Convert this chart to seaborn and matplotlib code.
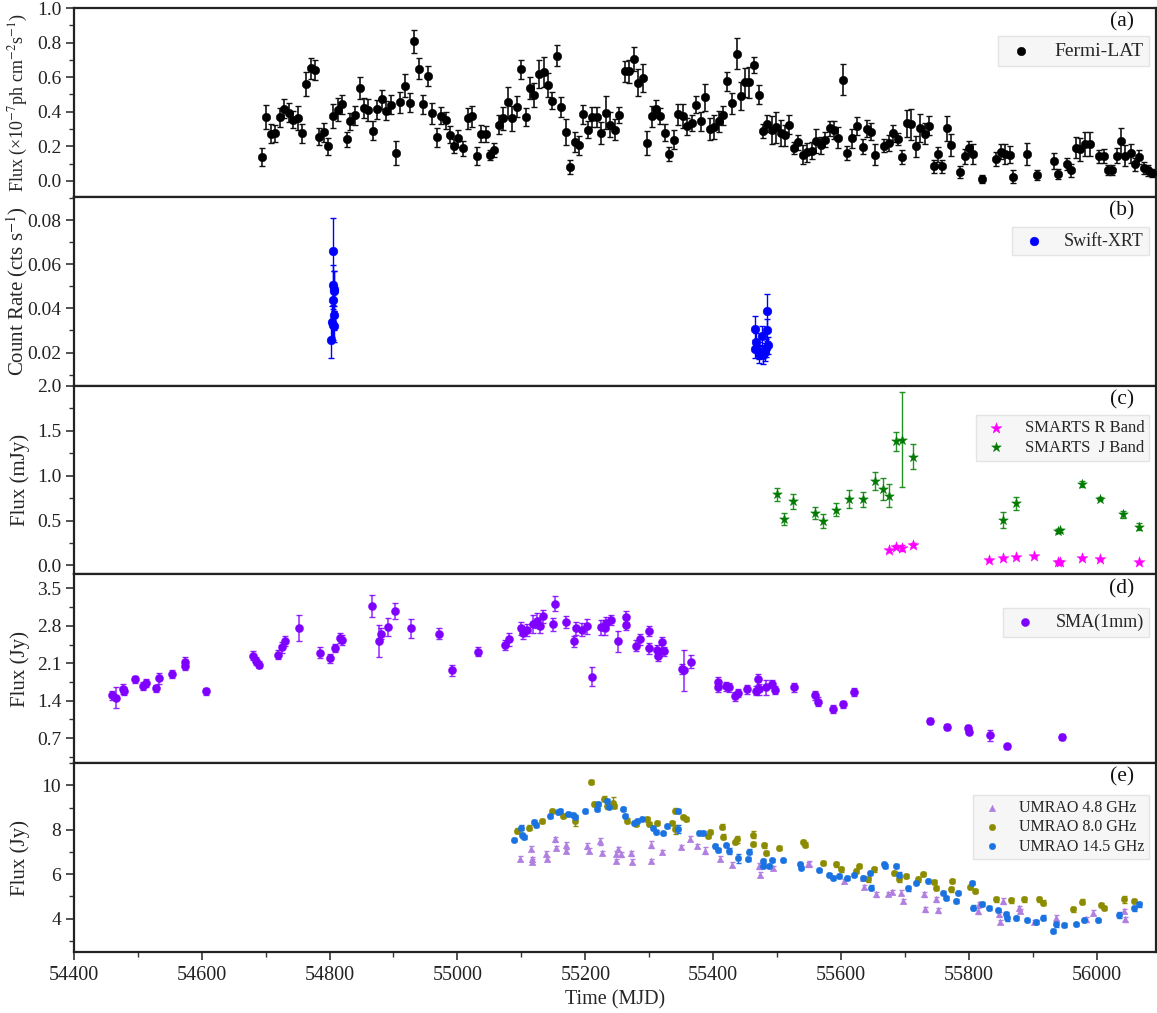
import numpy as np
import pandas as pd
import matplotlib
matplotlib.use("Agg")
import matplotlib.pyplot as plt
from matplotlib.ticker import MultipleLocator
import seaborn as sns

# ---------------- data ----------------
# (a) Fermi-LAT
lat_mjd = [54693.8, 54700.5, 54707.8, 54715.0, 54721.9, 54728.6, 54736.0, 54742.7, 54750.0, 54756.7,
           54763.4, 54770.3, 54777.0, 54783.8, 54790.6, 54797.8, 54805.2, 54812.5, 54819.7, 54826.6,
           54832.2, 54839.5, 54846.9, 54853.6, 54860.3, 54867.7, 54874.4, 54881.7, 54888.4, 54896.9,
           54904.0, 54909.8, 54918.8, 54926.0, 54932.8, 54940.0, 54946.9, 54954.0, 54961.0, 54968.0,
           54975.0, 54981.7, 54988.0, 54994.7, 55001.6, 55008.8, 55016.6, 55023.4, 55030.6, 55037.5,
           55044.7, 55051.0, 55057.8, 55064.5, 55071.9, 55078.6, 55086.0, 55092.7, 55100.0, 55106.7,
           55113.0, 55120.3, 55127.5, 55134.8, 55141.6, 55148.4, 55155.6, 55162.5, 55169.7, 55176.6,
           55183.3, 55190.0, 55196.9, 55204.0, 55211.0, 55217.7, 55224.4, 55231.7, 55238.4, 55245.8,
           55252.5, 55261.4, 55268.0, 55275.5, 55282.8, 55289.5, 55296.9, 55303.6, 55310.3, 55317.2,
           55324.4, 55331.3, 55338.4, 55345.3, 55352.5, 55359.4, 55366.6, 55373.4, 55380.6, 55387.5,
           55394.7, 55401.6, 55408.8, 55415.6, 55422.3, 55429.7, 55436.4, 55442.7, 55449.4, 55456.3,
           55463.4, 55470.8, 55477.5, 55484.8, 55491.6, 55498.4, 55505.2, 55512.5, 55519.2, 55526.6,
           55533.3, 55540.6, 55547.3, 55554.0, 55561.4, 55568.1, 55575.0, 55582.2, 55589.5, 55595.8,
           55602.5, 55609.8, 55616.6, 55625.0, 55633.8, 55640.6, 55647.3, 55653.6, 55667.7, 55674.4,
           55681.3, 55688.4, 55695.3, 55702.5, 55709.8, 55716.6, 55723.4, 55730.6, 55737.5, 55744.7,
           55751.6, 55758.3, 55765.6, 55772.3, 55786.4, 55793.1, 55800.0, 55806.7, 55820.8, 55842.2,
           55849.4, 55856.3, 55863.4, 55869.2, 55890.6, 55905.6, 55932.2, 55939.5, 55953.1, 55959.8,
           55966.6, 55973.4, 55980.6, 55988.4, 56003.1, 56010.3, 56017.2, 56024.0, 56030.6, 56037.5,
           56044.2, 56052.5, 56059.4, 56066.1, 56072.8, 56079.7, 56086.4]
lat_flux = [0.138, 0.371, 0.272, 0.274, 0.367, 0.417, 0.394, 0.355, 0.363, 0.275,
            0.559, 0.652, 0.642, 0.256, 0.281, 0.200, 0.374, 0.412, 0.444, 0.240,
            0.344, 0.380, 0.536, 0.421, 0.409, 0.289, 0.413, 0.471, 0.405, 0.440,
            0.161, 0.454, 0.551, 0.452, 0.807, 0.650, 0.444, 0.607, 0.390, 0.252,
            0.378, 0.351, 0.268, 0.200, 0.246, 0.188, 0.361, 0.373, 0.144, 0.272,
            0.272, 0.151, 0.180, 0.326, 0.361, 0.456, 0.361, 0.429, 0.646, 0.369,
            0.536, 0.497, 0.617, 0.631, 0.553, 0.464, 0.724, 0.427, 0.284, 0.082,
            0.225, 0.206, 0.384, 0.297, 0.369, 0.369, 0.278, 0.394, 0.326, 0.297,
            0.380, 0.633, 0.633, 0.706, 0.569, 0.596, 0.221, 0.374, 0.417, 0.374,
            0.278, 0.153, 0.239, 0.384, 0.377, 0.315, 0.336, 0.441, 0.345, 0.483,
            0.301, 0.310, 0.345, 0.380, 0.577, 0.448, 0.736, 0.491, 0.571, 0.571,
            0.670, 0.499, 0.287, 0.330, 0.295, 0.310, 0.278, 0.264, 0.324, 0.190,
            0.223, 0.151, 0.165, 0.175, 0.231, 0.206, 0.239, 0.303, 0.295, 0.249,
            0.586, 0.161, 0.246, 0.318, 0.198, 0.301, 0.284, 0.151, 0.204, 0.220,
            0.274, 0.243, 0.138, 0.332, 0.328, 0.200, 0.305, 0.272, 0.318, 0.083,
            0.153, 0.083, 0.303, 0.206, 0.051, 0.141, 0.188, 0.155, 0.010, 0.128,
            0.169, 0.155, 0.151, 0.025, 0.155, 0.033, 0.115, 0.041, 0.095, 0.060,
            0.192, 0.182, 0.211, 0.215, 0.141, 0.146, 0.064, 0.064, 0.146, 0.231,
            0.146, 0.161, 0.095, 0.136, 0.074, 0.060, 0.045]
lat_err = [0.050, 0.070, 0.055, 0.050, 0.055, 0.055, 0.055, 0.050, 0.070, 0.055,
           0.070, 0.060, 0.060, 0.050, 0.055, 0.050, 0.070, 0.065, 0.055, 0.045,
           0.050, 0.055, 0.065, 0.060, 0.065, 0.055, 0.055, 0.055, 0.055, 0.055,
           0.070, 0.060, 0.065, 0.055, 0.065, 0.060, 0.055, 0.060, 0.060, 0.055,
           0.050, 0.050, 0.050, 0.040, 0.050, 0.045, 0.060, 0.060, 0.050, 0.050,
           0.045, 0.030, 0.040, 0.055, 0.065, 0.090, 0.070, 0.060, 0.055, 0.050,
           0.065, 0.070, 0.080, 0.085, 0.070, 0.050, 0.060, 0.060, 0.075, 0.040,
           0.060, 0.055, 0.055, 0.050, 0.060, 0.060, 0.065, 0.095, 0.075, 0.060,
           0.045, 0.060, 0.065, 0.070, 0.080, 0.080, 0.070, 0.060, 0.050, 0.045,
           0.050, 0.040, 0.055, 0.060, 0.070, 0.050, 0.045, 0.050, 0.055, 0.080,
           0.065, 0.070, 0.060, 0.055, 0.055, 0.060, 0.090, 0.080, 0.085, 0.090,
           0.045, 0.055, 0.040, 0.050, 0.080, 0.090, 0.075, 0.060, 0.055, 0.035,
           0.045, 0.055, 0.055, 0.050, 0.070, 0.050, 0.045, 0.045, 0.050, 0.060,
           0.090, 0.040, 0.055, 0.050, 0.045, 0.050, 0.050, 0.060, 0.040, 0.045,
           0.050, 0.035, 0.040, 0.080, 0.090, 0.060, 0.080, 0.060, 0.055, 0.035,
           0.045, 0.035, 0.070, 0.065, 0.035, 0.045, 0.040, 0.060, 0.025, 0.040,
           0.045, 0.060, 0.050, 0.040, 0.065, 0.030, 0.045, 0.030, 0.035, 0.035,
           0.060, 0.065, 0.070, 0.070, 0.035, 0.040, 0.030, 0.030, 0.045, 0.075,
           0.060, 0.055, 0.040, 0.040, 0.035, 0.030, 0.025]

# (b) Swift-XRT
xrt_mjd = [54803.1, 54805.6, 54805.6, 54807.2, 54805.6, 54807.2, 54804.0, 54805.6, 54807.2, 54806.5,
           55465.6, 55467.2, 55471.3, 55472.3, 55476.6, 55477.5, 55480.2, 55482.8, 55484.4, 55484.4,
           55485.3, 55465.6]
xrt_rate = [0.0257, 0.0506, 0.0658, 0.0478, 0.0438, 0.0370, 0.0340, 0.0325, 0.0320, 0.0490,
            0.0307, 0.0247, 0.0194, 0.0209, 0.0274, 0.0190, 0.0202, 0.0220, 0.0387, 0.0304,
            0.0232, 0.0217]
xrt_err = [0.0080, 0.0090, 0.0150, 0.0090, 0.0080, 0.0070, 0.0070, 0.0070, 0.0070, 0.0080,
           0.0060, 0.0040, 0.0040, 0.0040, 0.0045, 0.0040, 0.0040, 0.0040, 0.0080, 0.0050,
           0.0040, 0.0040]

# (c) SMARTS
smr_mjd = [55674.4, 55686.0, 55695.8, 55711.9, 55830.6, 55853.0, 55873.4, 55901.6, 55939.5, 55942.7,
           55977.0, 56005.0, 56065.0]
smr_flux = [0.168, 0.209, 0.194, 0.228, 0.060, 0.086, 0.097, 0.104, 0.034, 0.037,
            0.082, 0.075, 0.037]
smr_err = [0.02, 0.02, 0.03, 0.02, 0.01, 0.01, 0.01, 0.01, 0.01, 0.01, 0.01, 0.01, 0.01]
smj_mjd = [55499.4, 55511.4, 55524.4, 55559.8, 55571.9, 55591.6, 55612.5, 55633.8, 55653.6, 55665.0,
           55675.0, 55686.0, 55695.8, 55711.9, 55853.0, 55873.4, 55939.5, 55942.7, 55977.0, 56005.0,
           56040.6, 56065.0]
smj_flux = [0.790, 0.515, 0.713, 0.582, 0.496, 0.620, 0.735, 0.735, 0.937, 0.850,
            0.776, 1.380, 1.400, 1.210, 0.504, 0.690, 0.380, 0.390, 0.907, 0.743,
            0.571, 0.433]
smj_err = [0.075, 0.070, 0.080, 0.070, 0.080, 0.070, 0.100, 0.080, 0.100, 0.120,
           0.130, 0.110, 0.530, 0.140, 0.090, 0.070, 0.020, 0.020, 0.030, 0.020,
           0.040, 0.040]

# (d) SMA 1mm
sma_mjd = [54460.6, 54466.7, 54476.8, 54477.9, 54495.7, 54508.0, 54513.6, 54529.2, 54533.1, 54553.2,
           54573.3, 54574.4, 54607.3, 54679.8, 54684.8, 54689.9, 54720.0, 54725.6, 54730.6, 54752.9,
           54785.2, 54801.4, 54809.2, 54817.0, 54819.3, 54866.7, 54876.7, 54880.6, 54890.7, 54902.9,
           54928.0, 54971.0, 54992.2, 55032.9, 55074.7, 55080.3, 55099.8, 55102.0, 55109.3, 55118.8,
           55124.9, 55128.8, 55134.4, 55150.0, 55152.3, 55170.1, 55182.4, 55185.2, 55194.1, 55202.5,
           55210.3, 55224.8, 55230.4, 55232.0, 55239.8, 55251.5, 55263.9, 55263.9, 55280.0, 55286.1,
           55298.9, 55298.9, 55312.2, 55314.4, 55319.4, 55323.3, 55351.6, 55354.4, 55366.0, 55407.1,
           55408.2, 55420.4, 55425.4, 55434.3, 55438.2, 55453.2, 55467.0, 55470.4, 55471.5, 55482.0,
           55491.5, 55496.5, 55525.9, 55559.7, 55563.6, 55587.5, 55602.5, 55619.7, 55739.6, 55765.1,
           55797.8, 55799.5, 55832.8, 55858.9, 55944.9]
sma_flux = [1.499, 1.456, 1.618, 1.581, 1.796, 1.673, 1.729, 1.630, 1.815, 1.902,
            2.120, 2.057, 1.574, 2.240, 2.138, 2.075, 2.260, 2.400, 2.515, 2.760,
            2.300, 2.190, 2.385, 2.571, 2.534, 3.170, 2.510, 2.650, 2.775, 3.070,
            2.750, 2.650, 1.970, 2.317, 2.440, 2.547, 2.757, 2.660, 2.720, 2.830,
            2.890, 2.800, 2.974, 2.830, 3.210, 2.870, 2.510, 2.750, 2.725, 2.790,
            1.850, 2.770, 2.760, 2.860, 2.910, 2.510, 2.970, 2.820, 2.430, 2.550,
            2.700, 2.380, 2.340, 2.240, 2.490, 2.320, 1.990, 1.970, 2.130, 1.750,
            1.650, 1.670, 1.650, 1.480, 1.540, 1.610, 1.590, 1.800, 1.610, 1.650,
            1.710, 1.600, 1.650, 1.500, 1.380, 1.245, 1.330, 1.560, 1.020, 0.905,
            0.887, 0.820, 0.750, 0.545, 0.720]
sma_err = [0.08, 0.20, 0.09, 0.08, 0.07, 0.07, 0.07, 0.07, 0.10, 0.08,
           0.09, 0.08, 0.07, 0.08, 0.07, 0.07, 0.09, 0.10, 0.10, 0.24,
           0.10, 0.09, 0.08, 0.10, 0.09, 0.20, 0.30, 0.10, 0.17, 0.15,
           0.18, 0.10, 0.10, 0.09, 0.10, 0.12, 0.12, 0.11, 0.12, 0.17,
           0.14, 0.14, 0.12, 0.12, 0.14, 0.12, 0.10, 0.12, 0.12, 0.14,
           0.18, 0.14, 0.14, 0.10, 0.10, 0.20, 0.10, 0.10, 0.10, 0.10,
           0.10, 0.10, 0.10, 0.10, 0.10, 0.09, 0.10, 0.38, 0.12, 0.09,
           0.09, 0.08, 0.08, 0.09, 0.08, 0.08, 0.08, 0.10, 0.10, 0.14,
           0.08, 0.08, 0.08, 0.08, 0.08, 0.07, 0.07, 0.08, 0.06, 0.05,
           0.06, 0.05, 0.11, 0.04, 0.06]

# (e) UMRAO
u48_mjd = [55097.3, 55114.5, 55117.1, 55117.1, 55139.0, 55140.5, 55153.0, 55153.5, 55169.2, 55169.2,
           55203.0, 55205.1, 55223.3, 55225.9, 55248.3, 55250.9, 55248.3, 55255.1, 55271.8, 55272.8,
           55303.0, 55303.0, 55319.7, 55349.9, 55362.9, 55374.3, 55387.4, 55410.8, 55429.1, 55472.3,
           55473.8, 55493.1, 55547.8, 55550.4, 55605.1, 55633.8, 55636.4, 55654.6, 55672.9, 55679.6,
           55693.6, 55696.3, 55730.1, 55731.7, 55748.3, 55751.1, 55816.0, 55814.5, 55847.3, 55848.3,
           55852.5, 55878.5, 55879.5, 55902.0, 55935.8, 55982.7, 55993.1, 56042.6, 56044.1]
u48_flux = [6.71, 7.15, 6.67, 6.57, 6.93, 6.70, 7.57, 7.19, 7.30, 7.04,
            7.27, 7.07, 7.49, 6.97, 6.93, 7.12, 6.60, 6.90, 6.94, 6.57,
            7.34, 6.60, 7.01, 7.22, 7.61, 7.27, 7.07, 6.71, 6.44, 6.37,
            5.99, 6.29, 6.45, 6.48, 5.69, 5.84, 5.42, 5.09, 5.12, 5.21,
            5.17, 4.79, 5.09, 4.42, 4.87, 4.37, 4.64, 4.34, 4.19, 3.86,
            4.79, 4.49, 4.34, 3.86, 4.04, 3.97, 4.27, 4.34, 3.97]
u48_err = [0.12, 0.12, 0.10, 0.10, 0.12, 0.10, 0.12, 0.10, 0.14, 0.10,
           0.12, 0.10, 0.15, 0.10, 0.10, 0.10, 0.10, 0.10, 0.12, 0.10,
           0.14, 0.10, 0.10, 0.10, 0.10, 0.10, 0.14, 0.10, 0.10, 0.12,
           0.10, 0.10, 0.10, 0.10, 0.10, 0.10, 0.10, 0.10, 0.10, 0.10,
           0.10, 0.10, 0.10, 0.12, 0.10, 0.12, 0.10, 0.12, 0.10, 0.10,
           0.12, 0.10, 0.10, 0.10, 0.12, 0.10, 0.10, 0.10, 0.12]
u80_mjd = [55093.1, 55111.9, 55132.2, 55148.3, 55165.0, 55184.3, 55209.3, 55212.9, 55229.1, 55233.7,
           55243.1, 55244.2, 55265.5, 55278.6, 55296.3, 55299.4, 55312.4, 55335.9, 55340.5, 55340.5,
           55352.5, 55356.7, 55394.2, 55392.0, 55413.4, 55415.5, 55434.8, 55436.8, 55461.9, 55461.9,
           55480.1, 55482.7, 55502.5, 55540.0, 55544.2, 55571.3, 55592.1, 55599.9, 55623.3, 55627.5,
           55641.6, 55652.0, 55683.2, 55691.1, 55701.5, 55727.5, 55719.7, 55745.7, 55748.3, 55773.3,
           55771.8, 55801.5, 55809.8, 55842.1, 55865.5, 55886.3, 55909.8, 55915.0, 55961.9, 55976.4,
           56006.1, 56011.3, 56042.6, 56058.2]
u80_flux = [7.97, 8.10, 8.39, 8.84, 8.62, 8.39, 10.16, 9.17, 9.41, 9.07,
            9.22, 9.07, 8.42, 8.27, 8.47, 8.27, 8.32, 8.32, 8.87, 8.02,
            8.57, 8.50, 7.91, 7.72, 8.15, 7.70, 7.45, 7.57, 7.79, 7.37,
            7.30, 6.97, 7.19, 7.45, 7.34, 6.52, 6.45, 6.22, 6.15, 6.37,
            5.77, 6.22, 6.07, 5.77, 5.92, 6.02, 5.77, 5.66, 5.39, 5.69,
            5.32, 5.42, 5.24, 4.87, 4.82, 4.87, 4.87, 4.72, 4.42, 4.77,
            4.61, 4.49, 4.87, 4.79]
u80_err = [0.10, 0.10, 0.10, 0.10, 0.10, 0.20, 0.10, 0.10, 0.10, 0.12,
           0.25, 0.10, 0.10, 0.10, 0.10, 0.10, 0.10, 0.10, 0.10, 0.20,
           0.10, 0.10, 0.10, 0.10, 0.10, 0.10, 0.10, 0.14, 0.15, 0.10,
           0.10, 0.10, 0.10, 0.10, 0.10, 0.10, 0.10, 0.10, 0.10, 0.10,
           0.10, 0.10, 0.10, 0.10, 0.10, 0.10, 0.10, 0.10, 0.10, 0.10,
           0.10, 0.10, 0.10, 0.10, 0.10, 0.10, 0.10, 0.10, 0.10, 0.10,
           0.10, 0.10, 0.15, 0.10]
u145_mjd = [55088.4, 55100.0, 55101.5, 55103.5, 55119.7, 55122.3, 55144.2, 55157.2, 55159.8, 55172.8,
            55180.6, 55184.3, 55199.4, 55218.1, 55219.7, 55233.7, 55236.4, 55258.7, 55262.4, 55275.4,
            55280.6, 55288.9, 55305.6, 55310.3, 55321.8, 55327.0, 55344.7, 55345.2, 55378.5, 55383.7,
            55403.5, 55407.7, 55420.2, 55424.4, 55438.4, 55454.1, 55455.6, 55477.5, 55477.5, 55487.9,
            55491.5, 55508.7, 55536.3, 55537.4, 55566.0, 55581.7, 55586.9, 55597.3, 55608.8, 55620.7,
            55633.8, 55645.2, 55646.8, 55667.6, 55669.2, 55685.8, 55691.1, 55704.1, 55717.1, 55735.3,
            55758.7, 55764.0, 55779.6, 55782.2, 55804.6, 55805.6, 55820.2, 55831.7, 55845.7, 55857.7,
            55859.3, 55873.4, 55890.5, 55904.6, 55915.0, 55930.6, 55935.8, 55948.8, 55967.0, 55980.1,
            56001.0, 56034.8, 56058.2, 56066.0]
u145_flux = [7.56, 8.10, 7.75, 7.67, 8.36, 8.21, 8.62, 8.81, 8.84, 8.72,
             8.69, 8.57, 8.84, 8.92, 9.17, 9.29, 9.05, 8.95, 8.62, 8.32,
             8.39, 8.51, 8.09, 7.90, 7.84, 8.17, 8.84, 8.02, 7.87, 7.87,
             7.28, 7.10, 7.30, 7.05, 6.72, 6.68, 7.02, 6.60, 6.37, 6.37,
             6.63, 6.63, 6.45, 6.30, 6.18, 5.99, 5.84, 5.92, 5.84, 5.99,
             5.84, 6.07, 5.39, 6.45, 6.37, 6.37, 5.99, 5.36, 5.62, 5.69,
             5.17, 4.94, 4.79, 5.17, 5.62, 4.49, 4.67, 4.49, 4.37, 4.22,
             4.01, 4.04, 3.92, 3.86, 4.04, 3.44, 3.74, 3.71, 3.74, 3.92,
             3.92, 4.16, 4.46, 4.64]
u145_err = [0.08, 0.10, 0.10, 0.08, 0.10, 0.08, 0.08, 0.08, 0.08, 0.08,
            0.08, 0.10, 0.08, 0.08, 0.08, 0.08, 0.08, 0.08, 0.08, 0.08,
            0.08, 0.08, 0.08, 0.10, 0.08, 0.08, 0.10, 0.18, 0.08, 0.08,
            0.08, 0.08, 0.08, 0.12, 0.20, 0.08, 0.10, 0.08, 0.08, 0.08,
            0.08, 0.08, 0.08, 0.08, 0.08, 0.08, 0.08, 0.08, 0.08, 0.08,
            0.08, 0.08, 0.12, 0.08, 0.08, 0.08, 0.10, 0.12, 0.08, 0.08,
            0.08, 0.08, 0.08, 0.08, 0.08, 0.12, 0.08, 0.08, 0.08, 0.08,
            0.10, 0.08, 0.08, 0.10, 0.12, 0.08, 0.12, 0.08, 0.08, 0.08,
            0.08, 0.12, 0.10, 0.10]

panel_tags = ["(a)", "(b)", "(c)", "(d)", "(e)"]
ylabels = ["Flux (×10$^{-7}$ph cm$^{-2}$s$^{-1}$)", "Count Rate (cts s$^{-1}$)",
           "Flux (mJy)", "Flux (Jy)", "Flux (Jy)"]

# ---------------- style ----------------
sns.set_theme(style="ticks")
plt.rcParams["font.family"] = ["Liberation Serif", "DejaVu Serif"]
plt.rcParams["mathtext.fontset"] = "stix"
plt.rcParams["axes.edgecolor"] = "#222222"
plt.rcParams["axes.linewidth"] = 1.6

fig = plt.figure(figsize=(11.57, 10.13), dpi=100)
axes = fig.subplots(5, 1, sharex=True, gridspec_kw=dict(hspace=0))
fig.subplots_adjust(left=0.0637, right=0.9995, top=0.992, bottom=0.0602)

def errs(ax, x, y, e, color, lw=1.2, cap=2.5, alpha=1.0):
    ax.errorbar(x, y, yerr=e, fmt="none", ecolor=color, elinewidth=lw,
                capsize=cap, capthick=1.0, alpha=alpha, zorder=2)

def pts(ax, x, y, color, label, s=36, marker="o"):
    sns.scatterplot(x=x, y=y, ax=ax, color=color, s=s, marker=marker,
                    edgecolor=color, linewidth=0.3, label=label, zorder=3)

leg_kw = dict(loc="upper right", frameon=True, fancybox=False, framealpha=1.0,
              facecolor="#F6F6F6", edgecolor="#E4E4E4", borderpad=0.3,
              borderaxespad=0.0, handletextpad=0.8, labelspacing=0.2, handlelength=1.8)

# (a)
ax = axes[0]
errs(ax, lat_mjd, lat_flux, lat_err, "#111111")
pts(ax, lat_mjd, lat_flux, "black", "Fermi-LAT", s=38)
ax.set_ylim(-0.093, 1.0)
ax.yaxis.set_major_locator(MultipleLocator(0.2))
ax.yaxis.set_minor_locator(MultipleLocator(0.1))
ax.legend(bbox_to_anchor=(0.9935, 0.85), fontsize=14, **leg_kw)

# (b)
ax = axes[1]
errs(ax, xrt_mjd, xrt_rate, xrt_err, "#0000FF", lw=1.0, cap=2)
pts(ax, xrt_mjd, xrt_rate, "#0000FF", "Swift-XRT", s=40)
ax.set_ylim(0.005, 0.0905)
ax.yaxis.set_major_locator(MultipleLocator(0.02))
ax.yaxis.set_minor_locator(MultipleLocator(0.01))
ax.legend(bbox_to_anchor=(0.9935, 0.84), fontsize=13, **leg_kw)

# (c)
ax = axes[2]
errs(ax, smr_mjd, smr_flux, smr_err, "#FF00FF", lw=1.0, cap=2)
errs(ax, smj_mjd, smj_flux, smj_err, "#008000", lw=1.0, cap=2, alpha=0.85)
pts(ax, smr_mjd, smr_flux, "#FF00FF", "SMARTS R Band", s=70, marker="*")
pts(ax, smj_mjd, smj_flux, "#007A00", "SMARTS  J Band", s=55, marker="*")
ax.set_ylim(-0.1, 2.0)
ax.yaxis.set_major_locator(MultipleLocator(0.5))
ax.yaxis.set_minor_locator(MultipleLocator(0.25))
ax.legend(bbox_to_anchor=(0.9935, 0.842), fontsize=12, **leg_kw)

# (d)
ax = axes[3]
errs(ax, sma_mjd, sma_flux, sma_err, "#7F00FF", lw=1.1, cap=2.2, alpha=0.85)
pts(ax, sma_mjd, sma_flux, "#7F00FF", "SMA(1mm)", s=34)
ax.set_ylim(0.23, 3.76)
ax.yaxis.set_major_locator(MultipleLocator(0.7))
ax.yaxis.set_minor_locator(MultipleLocator(0.35))
ax.legend(bbox_to_anchor=(0.9935, 0.82), fontsize=13, **leg_kw)

# (e)
ax = axes[4]
errs(ax, u48_mjd, u48_flux, u48_err, "#B07FE0", lw=1.0, cap=1.8)
errs(ax, u80_mjd, u80_flux, u80_err, "#8C8C00", lw=1.0, cap=1.8)
errs(ax, u145_mjd, u145_flux, u145_err, "#1A73E0", lw=1.0, cap=1.8)
pts(ax, u48_mjd, u48_flux, "#B07FE0", "UMRAO 4.8 GHz", s=22, marker="^")
pts(ax, u80_mjd, u80_flux, "#8C8C00", "UMRAO 8.0 GHz", s=22)
pts(ax, u145_mjd, u145_flux, "#1A73E0", "UMRAO 14.5 GHz", s=22)
ax.set_ylim(2.5, 11.0)
ax.yaxis.set_major_locator(MultipleLocator(2))
ax.yaxis.set_minor_locator(MultipleLocator(1))
ax.legend(bbox_to_anchor=(0.9935, 0.83), fontsize=11.5, **leg_kw)

ax.set_xlim(54400, 56093)
ax.xaxis.set_major_locator(MultipleLocator(200))
ax.xaxis.set_minor_locator(MultipleLocator(100))
ax.set_xlabel("Time (MJD)", fontsize=14.5, labelpad=4)

for i, a in enumerate(axes):
    a.set_ylabel(ylabels[i], fontsize=13 if i == 0 else 15)
    a.yaxis.set_label_coords(-0.0405, 0.5)
    a.tick_params(axis="y", which="major", direction="out", length=6, width=1.2,
                  color="#333333", labelsize=14, labelcolor="#222222", pad=3)
    a.tick_params(axis="y", which="minor", direction="out", length=3.5, width=1.0,
                  color="#333333")
    if i < 4:
        a.tick_params(axis="x", which="both", bottom=False, labelbottom=False)
    else:
        a.tick_params(axis="x", which="major", direction="out", length=6, width=1.2,
                      color="#333333", labelsize=14.5, labelcolor="#222222", pad=4)
        a.tick_params(axis="x", which="minor", direction="out", length=3.5, width=1.0,
                      color="#333333")
    a.text(0.968, 0.926, panel_tags[i], transform=a.transAxes, ha="center", va="center",
           fontsize=15.5, color="#111111")
    for sp in a.spines.values():
        sp.set_visible(True)

fig.savefig("out.png", dpi=100)
